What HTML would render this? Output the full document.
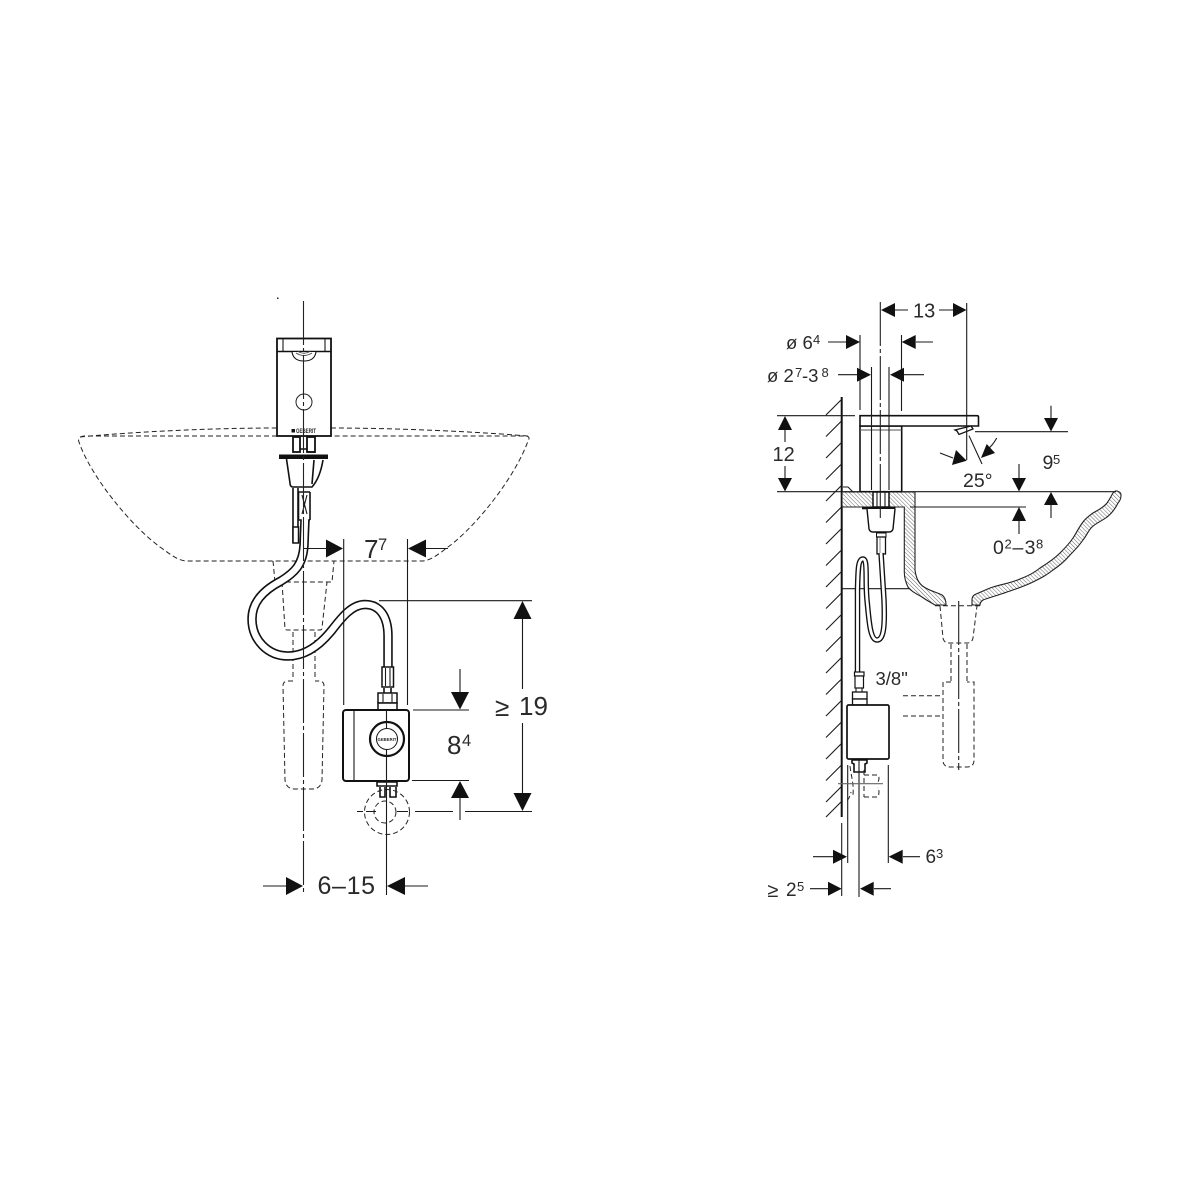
<!DOCTYPE html>
<html><head><meta charset="utf-8">
<style>
html,body{margin:0;padding:0;background:#fff}
svg{display:block}
text{font-family:"Liberation Sans",sans-serif;fill:#2a2a2a}
.d{fill:none;stroke:#1a1a1a;stroke-width:1.100}
.t{fill:none;stroke:#111;stroke-width:1.600}
.dash{fill:none;stroke:#222;stroke-width:1;stroke-dasharray:5 3}
.cl{fill:none;stroke:#222;stroke-width:1.100;stroke-dasharray:44 3 4 3}
.a{fill:#111;stroke:none}
.w{fill:#fff;stroke:#111;stroke-width:1.500}
</style></head><body>
<svg width="1200" height="1200" viewBox="0 0 1200 1200" xmlns="http://www.w3.org/2000/svg">
<defs>
<pattern id="h" patternUnits="userSpaceOnUse" width="2.800" height="2.800" patternTransform="rotate(-45)">
<rect width="2.800" height="2.800" fill="#fff"/><line x1="0" y1="0" x2="0" y2="2.800" stroke="#666" stroke-width="1"/>
</pattern>
</defs>

<!-- LEFT VIEW -->
<rect x="277" y="297.500" width="1.500" height="1.500" fill="#222"/>
<!-- basin -->
<path class="dash" d="M80 437 C120 433 200 428 277 428 M331 428 C400 428 480 432 528 436"/>
<path class="dash" d="M277 436 H84 Q77 437 79 442 C90 475 130 525 160 547 C170 554 178 561 187 561 H423 C432 560 440 553 448 547 C478 525 516 475 528 441 Q531 436 525 436 H331"/>
<!-- drain dashed -->
<path class="dash" d="M273 561 L275 582 H332 L334 561"/>
<path class="dash" d="M282 582 L285 629 Q285 630 288 630 H320 Q322 630 322 628 L327 582"/>
<path class="dash" d="M293 632 V680 M315 632 V680"/>
<path class="dash" d="M293 681 H288 Q283 681 283 686 L285 780 Q286 789 295 789 H312 Q321 789 322 780 L324 686 Q324 681 319 681 H315"/>

<!-- faucet front -->
<rect x="277" y="338.500" width="54" height="97.500" fill="#fff" stroke="#111" stroke-width="1.800"/>
<path class="t" d="M277 351.500 H331"/>
<path class="d" d="M283 339 V351 M325 339 V351"/>
<path d="M292 351.500 Q293 361 304 361 Q315 361 316 351.500Z" fill="#fff" stroke="#111" stroke-width="1.100"/>
<path d="M296 353 Q304 358 312 353 M298 351.500 Q304 355 310 351.500" fill="none" stroke="#444" stroke-width="1"/>
<circle cx="304" cy="402" r="8" fill="#fff" stroke="#222" stroke-width="1"/>
<rect x="291.500" y="429" width="3.500" height="3.500" fill="#111"/>
<text x="296" y="433" font-size="6" font-weight="bold" textLength="20" lengthAdjust="spacingAndGlyphs">GEBERIT</text>
<!-- mount -->
<rect x="293" y="437" width="7" height="15" fill="#fff" stroke="#111" stroke-width="1.800"/>
<rect x="307" y="437" width="8" height="15" fill="#fff" stroke="#111" stroke-width="1.800"/>
<path d="M300 449 H307 M307 452 H315" stroke="#111" stroke-width="1.500" fill="none"/>
<rect x="279" y="454.500" width="49" height="4.500" fill="#111"/>
<path class="t" d="M286.500 459 L290 483 Q290 487 293 487 H312 Q320 478 323 460"/>
<path class="t" d="M314 460 L312 484"/>
<path class="t" d="M293 488 V543 M298 488 V543"/>
<rect x="293" y="527" width="5.500" height="16" fill="#fff" stroke="#111" stroke-width="1.500"/>
<path class="t" d="M298.500 492 H310 M298.500 492 V520 M310 492 V520 M298.500 520 H310"/>
<path class="d" d="M302 495 L307 514 M307 495 L302 514"/>

<!-- hose -->
<path d="M305 520 L304 545 C303 565 294 573 281 581 C262 591 252 603 252 619 C252 640 268 656 288 656 C305 656 320 645 332 630 C342 617 352 604.500 365 604.500 C380 604.500 388 617 388 636 L388 667" fill="none" stroke="#111" stroke-width="9.500"/>
<path d="M305 519 L304 545 C303 565 294 573 281 581 C262 591 252 603 252 619 C252 640 268 656 288 656 C305 656 320 645 332 630 C342 617 352 604.500 365 604.500 C380 604.500 388 617 388 636 L388 668" fill="none" stroke="#fff" stroke-width="6.300"/>

<!-- center line -->
<path class="cl" d="M303.500 301 V895" stroke-width="1.300"/>
<!-- connector / box -->
<rect x="382" y="667" width="11.500" height="20" fill="#fff" stroke="#111" stroke-width="1.500"/>
<path class="d" d="M385.500 668 V686 M390 668 V686"/>
<path class="t" d="M384 688 V693 M391 688 V693"/>
<rect x="378" y="693" width="19" height="10" fill="#fff" stroke="#111" stroke-width="1.500"/>
<rect x="378" y="703" width="19" height="7" fill="#fff" stroke="#111" stroke-width="1.500"/>
<path class="d" d="M383 694 V702 M392 694 V702"/>
<rect x="343" y="710" width="66" height="71" rx="3" fill="#fff" stroke="#111" stroke-width="2"/>
<path class="d" d="M354 711 V780"/>
<circle cx="387" cy="739" r="17" fill="#fff" stroke="#111" stroke-width="2.200"/>
<circle cx="387" cy="739" r="10.500" fill="#fff" stroke="#111" stroke-width="1"/>
<text x="377.500" y="741" font-size="4.500" font-weight="bold" textLength="19" lengthAdjust="spacingAndGlyphs">GEBERIT</text>
<path class="d" d="M386.500 710 V729 M386.500 749 V781"/>
<!-- fittings -->
<path class="t" d="M377 782 H397 V786 H377Z M380 787 V797 H385 V787 M390 787 V797 H396 V787"/>
<!-- dashed circles -->
<circle class="dash" cx="387" cy="812" r="22.500"/>
<circle class="dash" cx="385" cy="812" r="11" stroke-dasharray="3 2"/>
<path class="d" d="M357 811.500 H363 M366 811.500 H376 M397 811.500 H408 M415 811.500 H453 M465 811.500 H532"/>
<path class="d" d="M386.500 781 V895"/>

<!-- 7^7 -->
<path class="d" d="M304 548.500 H326 M426 548.500 H448 M343.700 539 V705 M407.500 539 V705"/>
<polygon class="a" points="343,548.500 326,539.500 326,557.500"/>
<polygon class="a" points="408,548.500 426,539.500 426,557.500"/>
<text x="364" y="558" font-size="26">7</text><text x="378" y="550" font-size="16.500">7</text>
<!-- 19 -->
<path class="d" d="M379 600.700 H532 M522.500 619 V689 M522.500 723 V793"/>
<polygon class="a" points="522.500,601 513.500,619 531.500,619"/>
<polygon class="a" points="522.500,811 513.500,793 531.500,793"/>
<text x="495" y="716" font-size="26">≥</text>
<text x="519" y="715" font-size="26">19</text>
<!-- 8^4 -->
<path class="d" d="M413 710 H469 M412 780.500 H469 M460 669 V692 M460 798 V820"/>
<polygon class="a" points="460,709.500 451,692 469,692"/>
<polygon class="a" points="460,781 451,798 469,798"/>
<text x="447" y="754" font-size="26">8</text><text x="462" y="746" font-size="16.500">4</text>
<!-- 6-15 -->
<path class="d" d="M263 886 H286 M405 886 H428"/>
<polygon class="a" points="303,886 286,877 286,895"/>
<polygon class="a" points="387,886 405,877 405,895"/>
<text x="317.500" y="894" font-size="25" textLength="57.500">6–15</text>

<!-- RIGHT VIEW -->
<!-- wall -->
<path d="M841.700 397 V817" stroke="#111" stroke-width="2" fill="none"/>
<path class="d" d="M841 400 L826 415 M841 421.500 L826 436.500 M841 443 L826 458 M841 464.500 L826 479.500 M841 486 L826 501 M841 507.500 L826 522.500 M841 529 L826 544 M841 550.500 L826 565.500 M841 572 L826 587 M841 593.500 L826 608.500 M841 615 L826 630 M841 636.500 L826 651.500 M841 658 L826 673 M841 679.500 L826 694.500 M841 701 L826 716 M841 722.500 L826 737.500 M841 744 L826 759 M841 765.500 L826 780.500 M841 787 L826 802 M841 802 L826 817"/>

<!-- basin section -->
<path fill="url(#h)" stroke="#222" stroke-width="1.100" d="M842 492 H915 V570 C916 578 919 584 924 587 C930 591 936 592 942 595 C945 597 946 600 946 605 H935 C930 602 926 600 922 597 C915 593 911 591 908 587 C905 581 904.300 577 904.300 572 V507 H842Z"/>
<path fill="url(#h)" stroke="#222" stroke-width="1.100" d="M980 605 H972 V600 Q972 596 975 594.500 C981 592 987 589 993 587 C1003 584 1011 583 1020 579 C1028 576 1034 573 1040 568 C1048 563 1054 559 1060 553 C1065 548 1069 544 1073 538 C1077 532 1079 527 1083 522 C1086 518 1089 516 1093 513 C1098 510 1103 508 1107 503 C1110 499 1111 496 1113 493 Q1115 490.500 1117 491 Q1121 492 1121 495 C1121 499 1120 501 1118 503 C1115 509 1111 514 1107 517 C1102 521 1096 523 1092 527 C1088 531 1087 535 1083 540 C1079 546 1075 550 1070 555 C1065 561 1059 566 1053 570 C1047 575 1041 578 1033 582 C1025 586 1016 589 1007 592 C999 595 991 597 983 600 Q980 602 980 605Z"/>
<path class="d" d="M843 487 H848 L853 492"/>
<path class="d" d="M777 491.700 H1116 M777 415.700 H855 M842 588.700 H909 M910 507 H1026"/>
<!-- drain dashed -->
<path class="dash" d="M935 605.700 H982 M940 606 L943 638 Q944 643 949 643 H967 Q972 643 973 638 L977 606"/>
<path class="dash" d="M951 644 V681 M967 644 V681"/>
<path class="dash" d="M951 682 H943 V760 Q943 767 950 767 H967 Q974 767 974 760 V682 H967"/>
<path class="dash" d="M903 695.700 H943 M903 716 H943"/>
<path class="cl" d="M958.700 601 V770" stroke-dasharray="30 3 4 3"/>

<!-- faucet -->
<rect x="860" y="426" width="41.700" height="65.700" fill="#fff" stroke="#111" stroke-width="1.600"/>
<path d="M860 430 H901.700" stroke="#555" stroke-width="1" fill="none"/>
<path d="M860 415.700 H977 Q978.500 415.700 978.500 417 V426 H860Z" fill="#fff" stroke="#111" stroke-width="1.600"/>
<path d="M955 430 L971 426 L973 429 L959 434.500 L957 431Z" fill="#fff" stroke="#111" stroke-width="1.300"/>
<path class="d" d="M860 335 V410 M901.500 335 V411 M871.500 367 V490 M889 367 V490 M966.700 303 V460"/>
<path class="cl" d="M880.300 302 V518" stroke-dasharray="36 3 4 3"/>
<!-- mount -->
<path d="M873 492 H889 V507 H873Z" fill="#fff" stroke="#111" stroke-width="1.500"/>
<path class="d" d="M877 492 V507 M885 492 V507"/>
<rect x="862" y="506.500" width="33.500" height="2.800" fill="#111"/>
<path d="M867 509 L869 529 Q870 532 873 532 H889 Q892 532 893 529 L895 509" fill="#fff" stroke="#111" stroke-width="1.400"/>
<path class="cl" d="M880.300 492 V518"/>
<rect x="876.500" y="533" width="9.500" height="4" fill="#fff" stroke="#111"/>
<rect x="877" y="537" width="8.500" height="17" fill="#fff" stroke="#111" stroke-width="1.300"/>
<path d="M880 538 V553" stroke="#888" stroke-width="1"/>

<!-- hose side -->
<path d="M881 553 L884 600 C885 625 884 640 877 640 C870 640 869 620 867 600 C865 580 868 559 863 559 C858 559 858 570 857.500 590 L857.500 672" fill="none" stroke="#111" stroke-width="5.500"/>
<path d="M881 553 L884 600 C885 625 884 640 877 640 C870 640 869 620 867 600 C865 580 868 559 863 559 C858 559 858 570 857.500 590 L857.500 673" fill="none" stroke="#fff" stroke-width="2.800"/>

<!-- valve side -->
<rect x="854.500" y="672" width="9.500" height="4" fill="#fff" stroke="#111" stroke-width="1.200"/>
<rect x="855" y="676" width="8.500" height="12" fill="#fff" stroke="#111" stroke-width="1.200"/>
<path class="d" d="M856 688 V692 M862 688 V692"/>
<rect x="852.500" y="692" width="14.500" height="7" fill="#fff" stroke="#111" stroke-width="1.300"/>
<rect x="852.500" y="699" width="14.500" height="6" fill="#fff" stroke="#111" stroke-width="1.300"/>
<rect x="847" y="705" width="42" height="54" rx="1.500" fill="#fff" stroke="#111" stroke-width="1.700"/>
<path class="t" d="M852 760 H867 V763 L865 764 V772 H854 V764 L852 763Z" fill="#fff"/>
<path class="d" d="M859 758 V897 M847.700 765 V863 M888.300 765 V863 M841.700 823 V896"/>
<path class="dash" stroke-dasharray="3 2" d="M850 766 C851 776 854 783 853 795 M847 800 C848 800 850 797 851 792 M864 770 V797 M864 775 H878 Q880 778 878 782 M864 797 H878 Q880 792 878 787"/>
<path d="M838 783.700 H883" stroke="#666" stroke-width="1.200" fill="none"/>

<!-- 13 -->
<path class="d" d="M895 310 H908 M939 310 H953"/>
<polygon class="a" points="881,310 895,303 895,317"/>
<polygon class="a" points="966.500,310 953,303 953,317"/>
<text x="913" y="317.500" font-size="20">13</text>
<!-- dia 6.4 -->
<path class="d" d="M828 342 H846 M916 342 H933"/>
<polygon class="a" points="860,342 846,335 846,349"/>
<polygon class="a" points="901.700,342 915.700,335 915.700,349"/>
<text x="786" y="349" font-size="18.500">ø 6</text><text x="813" y="344" font-size="13">4</text>
<!-- dia 2.7-3.8 -->
<path class="d" d="M838 374.700 H857 M904 374.700 H924"/>
<polygon class="a" points="871,374.700 857,367.700 857,381.700"/>
<polygon class="a" points="890,374.700 904,367.700 904,381.700"/>
<text x="767" y="382" font-size="18.500">ø 2</text><text x="795" y="377" font-size="13">7</text><text x="802" y="382" font-size="18.500">-3</text><text x="821.500" y="377" font-size="13">8</text>
<!-- 12 -->
<path class="d" d="M785 430 V442 M785 466 V478"/>
<polygon class="a" points="785,416 778,430 792,430"/>
<polygon class="a" points="785,491.500 778,478 792,478"/>
<text x="772.500" y="461" font-size="20">12</text>
<!-- 25 deg -->
<path class="d" d="M969 435.700 L982 464 M940 453 L953 458 M996.700 438 Q993 445 987 450"/>
<polygon class="a" points="966.700,460.700 956,450 952,465"/>
<polygon class="a" points="981,458 986.700,444 995,453"/>
<text x="963" y="487" font-size="19.500">25°</text>
<!-- 9^5 -->
<path class="d" d="M975 431.700 H1068 M1051 405.700 V418 M1051 505 V518"/>
<polygon class="a" points="1051,431.500 1044,418 1058,418"/>
<polygon class="a" points="1051,492 1044,505 1058,505"/>
<text x="1042.500" y="469" font-size="19.500">9</text><text x="1053" y="464" font-size="13">5</text>
<!-- 0^2-3^8 -->
<path class="d" d="M1019 464 V478 M1019 521 V534"/>
<polygon class="a" points="1019,491.500 1012,478 1026,478"/>
<polygon class="a" points="1019,507 1012,521 1026,521"/>
<text x="993" y="554" font-size="19.500">0</text><text x="1004.500" y="548.500" font-size="13">2</text><text x="1012.500" y="554" font-size="19.500" textLength="23">–3</text><text x="1036" y="548.500" font-size="13">8</text>
<!-- 3/8 -->
<text x="875.500" y="685" font-size="18.500">3/8"</text>
<!-- 6^3 -->
<path class="d" d="M813 856.700 H833 M903 856.700 H920"/>
<polygon class="a" points="847,856.700 833,849.700 833,863.700"/>
<polygon class="a" points="888.700,856.700 902.700,849.700 902.700,863.700"/>
<text x="925.500" y="863" font-size="19">6</text><text x="936" y="858" font-size="13">3</text>
<!-- 2^5 -->
<path class="d" d="M810 888.700 H828 M874 888.700 H891"/>
<polygon class="a" points="841.700,888.700 828,881.700 828,895.700"/>
<polygon class="a" points="860,888.700 873.700,881.700 873.700,895.700"/>
<text x="767.500" y="897" font-size="20">≥</text>
<text x="786" y="896" font-size="19">2</text><text x="797" y="891" font-size="13">5</text>
</svg>
</body></html>
